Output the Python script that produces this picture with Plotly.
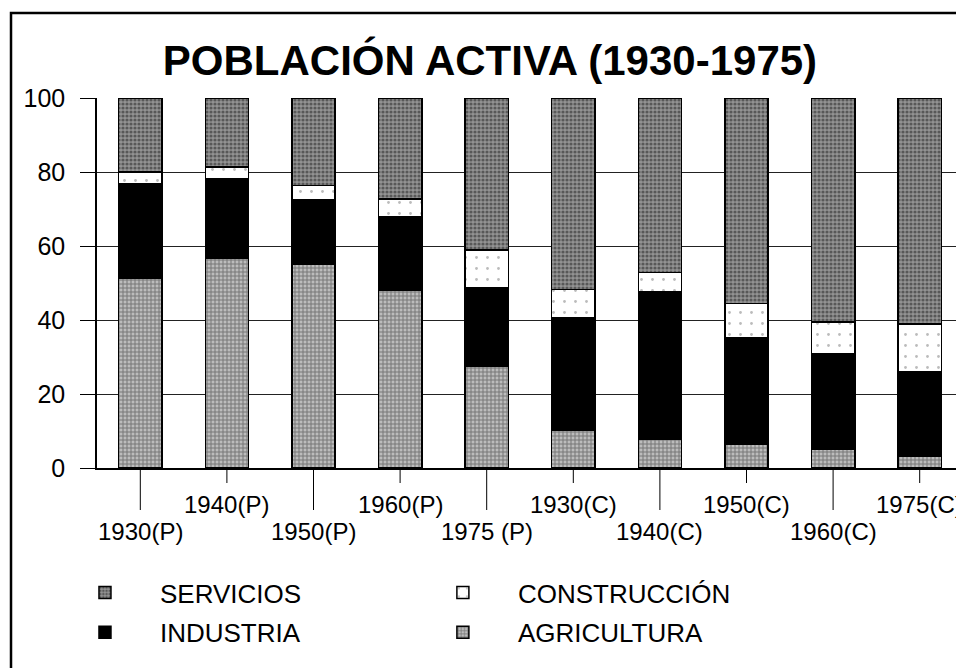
import plotly.graph_objects as go

categories = ['1930(P)', '1940(P)', '1950(P)', '1960(P)', '1975 (P)',
              '1930(C)', '1940(C)', '1950(C)', '1960(C)', '1975(C)']
agricultura = [51.4, 56.7, 55.0, 48.1, 27.6, 10.3, 7.7, 6.4, 5.0, 3.1]
industria = [25.5, 21.6, 17.4, 19.8, 21.1, 30.3, 40.0, 28.8, 26.0, 22.9]
construccion = [3.1, 3.0, 3.9, 4.8, 10.2, 7.7, 5.1, 9.3, 8.5, 12.9]
servicios = [20.0, 18.7, 23.7, 27.3, 41.1, 51.7, 47.2, 55.5, 60.5, 61.1]
y_ticks = [0, 20, 40, 60, 80, 100]

FONT = 'Liberation Sans'
line = dict(color='black', width=1.5)

fig = go.Figure()
fig.add_trace(go.Bar(
    x=categories, y=agricultura, name='AGRICULTURA', legend='legend2', legendgroup='agr',
    legendrank=2,
    marker=dict(color='#bcbcbc', line=line,
                pattern=dict(shape='+', fgcolor='#333333', size=4, solidity=0.45))))
fig.add_trace(go.Bar(
    x=categories, y=industria, name='INDUSTRIA', legend='legend', legendgroup='ind',
    legendrank=2,
    marker=dict(color='black', line=line)))
fig.add_trace(go.Bar(
    x=categories, y=construccion, name='CONSTRUCCIÓN', legend='legend2', legendgroup='con',
    legendrank=1,
    marker=dict(color='white', line=line,
                pattern=dict(shape='.', fgcolor='#777777', size=11, solidity=0.05))))
fig.add_trace(go.Bar(
    x=categories, y=servicios, name='SERVICIOS', legend='legend', legendgroup='ser',
    legendrank=1,
    marker=dict(color='#939393', line=line,
                pattern=dict(shape='.', fgcolor='#1e1e1e', size=4, solidity=0.5))))

# alternating x tick marks and labels
shapes = []
annotations = []
for i, c in enumerate(categories):
    long_tick = (i % 2 == 0)
    shapes.append(dict(type='line', xref='x', yref='paper', ysizemode='pixel', yanchor=0,
                       x0=i, x1=i, y0=0, y1=-42 if long_tick else -15,
                       line=dict(color='black', width=1)))
    annotations.append(dict(x=c, xref='x', y=0, yref='paper', yanchor='middle',
                            yshift=-63 if long_tick else -36, showarrow=False, text=c,
                            font=dict(family=FONT, size=24, color='black')))

# frame around the figure (left & top visible)
shapes.append(dict(type='rect', xref='paper', yref='paper', x0=-0.0993, x1=1.5,
                   y0=-2, y1=1.2297, line=dict(color='black', width=2.5), layer='above'))

legend_common = dict(yanchor='top', yref='paper', orientation='v',
                     traceorder='grouped', itemwidth=100, tracegroupgap=3,
                     font=dict(family=FONT, size=26, color='black'),
                     bgcolor='rgba(0,0,0,0)')

fig.update_layout(
    width=956, height=660,
    barmode='stack', bargap=0.5,
    paper_bgcolor='white', plot_bgcolor='white',
    margin=dict(l=89, r=1, t=90, b=200),
    title=dict(text='<b>POBLACIÓN ACTIVA (1930-1975)</b>',
               font=dict(family=FONT, size=42, color='black'),
               x=0.4538, xanchor='center', xref='paper',
               y=1 - 52 / 660, yanchor='middle', yref='container'),
    xaxis=dict(type='category', range=[-0.5, len(categories) - 0.5],
               showticklabels=False, ticks='', showgrid=False,
               showline=True, linecolor='black', linewidth=1.5, zeroline=False),
    yaxis=dict(range=[0, 100], tickvals=y_ticks, ticks='outside', ticklen=15,
               tickcolor='black', tickwidth=1, showline=True, linecolor='black',
               linewidth=1.5, showgrid=True, gridcolor='#222222', gridwidth=1,
               zeroline=False, ticklabelstandoff=10,
               tickfont=dict(family=FONT, size=25, color='black')),
    legend=dict(x=-0.0543, xanchor='left', y=-0.273, **legend_common),
    legend2=dict(x=0.359, xanchor='left', y=-0.273, **legend_common),
    shapes=shapes,
    annotations=annotations,
)

fig.write_html('out.html')
